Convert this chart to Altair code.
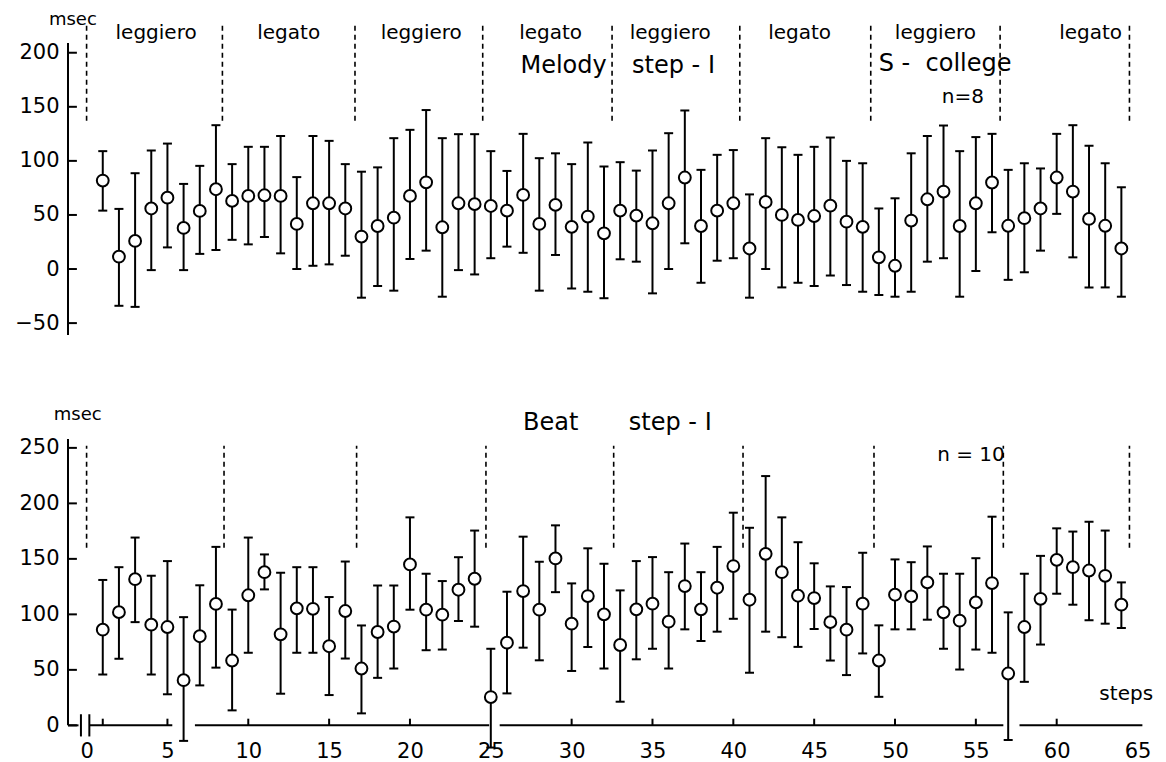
import altair as alt
import pandas as pd

FONT = "DejaVu Sans"

steps = list(range(1, 65))

# ---- Melody step-I (top panel) ----
mel_mean = [81.8, 11.4, 26, 56, 66, 38, 53.7, 73.8, 63, 67.6,
            68.2, 67.6, 41.7, 60.8, 60.8, 56, 30, 39.8, 47.5, 67.6,
            80.2, 38.6, 60.8, 60, 58.3, 54, 68.5, 41.7, 59.3, 39,
            48.5, 33, 54, 49.4, 42.3, 60.8, 84.6, 39.8, 54, 60.8,
            19, 62, 50, 45.4, 49, 58.6, 43.8, 39, 10.8, 3,
            44.8, 64.5, 71.6, 39.8, 60.8, 80, 40, 47, 56, 84.6,
            71.6, 46.3, 40, 19]
mel_hi = [109, 55.6, 88.6, 109.6, 116, 78.7, 95.4, 133, 97, 113,
          113, 123, 85, 123, 118.5, 97, 90, 94, 121, 128.7,
          147, 121, 124.7, 124.7, 109, 90.7, 125, 102.5, 107, 97,
          117, 94.8, 98.8, 91, 109.6, 125.6, 146.6, 91.7, 105.6, 110,
          69, 121, 112.6, 105.6, 113, 121.6, 100, 97.8, 56, 65.4,
          107, 123, 132.7, 109, 122, 125, 91.7, 97.8, 93, 125,
          133, 114, 97.8, 75.6]
mel_lo = [54, -34, -35, -1, 20, -1, 14, 17.6, 27, 22.8,
          29.6, 14.5, 0, 3, 4.3, 12.3, -26.5, -15.7, -20, 9.3,
          17, -25.6, -1, -5, 10, 20.7, 15, -20, 13, -18,
          -21, -27, 9, 6.8, -22.5, 0, 23.8, -12.7, 7.7, 10,
          -26.5, 0, -17, -12.7, -15.7, -6, -14.8, -21, -24, -25.6,
          -21, 6.8, 10, -25.6, -1.8, 34, -10, -3, 17, 51,
          10.8, -17, -17, -25.6]

# ---- Beat step-I (bottom panel) ----
beat_mean = [86.2, 102, 131.7, 90.7, 88.6, 40.7, 80.3, 109.4, 58.4, 117.2,
             138, 82, 105.4, 105, 71.3, 103, 51.2, 84.1, 89, 145,
             104.2, 99.7, 122.2, 132.1, 25.5, 74.5, 121, 104.2, 150.4, 91.6,
             116.5, 100, 72.4, 104.5, 109.6, 93.4, 125.5, 104.5, 124, 143.5,
             113.2, 154.5, 138, 116.8, 114.7, 93, 86.2, 109.6, 58.4, 117.7,
             116.2, 128.8, 101.8, 94.3, 110.8, 128.2, 46.7, 88.6, 114, 149.1,
             142.5, 139.5, 134.7, 108.7]
beat_hi = [131, 142.5, 169.2, 134.8, 148, 97.5, 126.2, 160.8, 104.3, 169.2,
           154, 137.5, 142.5, 142.5, 115.6, 147.6, 90, 126, 126, 187.4,
           136.6, 130, 151.5, 175.5, 69, 120.4, 170, 147.4, 180.2, 127.9,
           159.5, 145.6, 121.6, 148, 151.6, 138, 163.8, 138, 160.8, 191.6,
           178, 224.6, 187.4, 165, 146, 125.2, 124.6, 155.5, 90.1, 149.5,
           147, 161.2, 136.6, 136.6, 150.6, 188, 101.8, 136.6, 152.7, 177.5,
           174.6, 183.5, 175.5, 128.8]
beat_lo = [45.8, 60, 93, 45.8, 28, -14, 36, 52, 13.5, 65.4,
           122.5, 28.5, 65.4, 65.4, 27.3, 60.2, 10.8, 42.8, 51.2, 104.2,
           67.7, 68.3, 94, 88.9, -20, 28.8, 70, 58.6, 120, 49,
           70.6, 51.2, 21.3, 59.5, 69, 51.2, 86.5, 76, 84.4, 96,
           47.4, 84.4, 79.4, 70.7, 86.8, 58.4, 45.3, 64.8, 25.7, 86.5,
           86.5, 95.2, 69, 50.3, 68.3, 65.4, -13.2, 39.2, 72.8, 118.6,
           108.7, 94.6, 91.6, 87.7]

# section boundaries (dashed lines) and section names
top_bounds = [0, 8.4, 16.6, 24.5, 32.5, 40.4, 48.5, 56.5, 64.5]
top_bound_y = [137, 225]
bot_bounds = [0, 8.5, 16.7, 24.7, 32.6, 40.6, 48.7, 56.7, 64.5]
bot_bound_y = [160, 252]
sec_names = ["leggiero", "legato", "leggiero", "legato",
             "leggiero", "legato", "leggiero", "legato"]
sec_x = [4.3, 12.5, 20.7, 28.7, 36.1, 44.1, 52.5, 62.1]
sec_y = 218

# annotations
top_notes = ["Melody", "step - I", "S -\u00a0\u00a0college", "n=8", "msec"]
top_notes_x = [29.5, 36.3, 53.1, 54.2, -0.85]
top_notes_y = [188, 188, 190, 159, 230]
top_notes_size = [24, 24, 24, 20, 18]
bot_notes = ["Beat", "step - I", "n = 10", "steps", "msec"]
bot_notes_x = [28.7, 36.1, 54.7, 64.3, -0.55]
bot_notes_y = [272, 272, 244, 28, 279.5]
bot_notes_size = [24, 24, 20, 20, 18]

# axes
top_yticks = [-50, 0, 50, 100, 150, 200]
bot_yticks = [0, 50, 100, 150, 200, 250]
xticks_labels = list(range(0, 70, 5))
bot_xticks = [1, 5, 10, 15, 20, 30, 35, 40, 45, 50, 55, 60]
xaxis_seg_start = [-1.15, 0.17, 6.7, 25.55, 57.7]
xaxis_seg_end = [-0.5, 5.3, 24.9, 56.7, 65.3]
break_marks = [-0.35, 0.17]

XDOM = [-1.15, 65.4]
W = 1076
TOP_DOM = [-61, 209]
TOP_H = 292
BOT_DOM = [-15, 258]
BOT_H = 303
TICK_LEN = 0.55
LABEL_SIZE = 21


def xenc(field, show_axis):
    if show_axis:
        ax = alt.Axis(values=xticks_labels, domain=False, ticks=False, grid=False,
                      labelFontSize=LABEL_SIZE, labelFont=FONT, labelColor="black",
                      labelPadding=-2, title=None, labelFlush=False, labelOverlap=False)
    else:
        ax = None
    return alt.X(field, type="quantitative",
                 scale=alt.Scale(domain=XDOM, nice=False, zero=False), axis=ax)


def yenc(field, dom, ticks):
    ax = alt.Axis(values=ticks, domain=False, ticks=False, grid=False,
                  labelFontSize=LABEL_SIZE, labelFont=FONT, labelColor="black",
                  labelPadding=9, title=None, labelFlush=False, labelOverlap=False)
    return alt.Y(field, type="quantitative",
                 scale=alt.Scale(domain=dom, nice=False, zero=False), axis=ax)


def panel(mean, hi, lo, dom, yticks, bounds, bound_y, notes, nx, ny, nsize,
          show_x, h, with_sections):
    df = pd.DataFrame({"step": steps, "mean": mean, "hi": hi, "lo": lo})
    layers = []
    X = lambda f: xenc(f, show_x)
    Y = lambda f: yenc(f, dom, yticks)

    # y axis line and inward ticks
    yline = pd.DataFrame({"x": [XDOM[0]], "y0": [dom[0] if not show_x else 0],
                          "y1": [dom[1]]})
    layers.append(alt.Chart(yline).mark_rule(color="black", strokeWidth=2).encode(
        x=X("x"), y=Y("y0"), y2="y1"))
    ytk = pd.DataFrame({"x0": [XDOM[0]] * len(yticks),
                        "x1": [XDOM[0] + TICK_LEN] * len(yticks), "y": yticks})
    layers.append(alt.Chart(ytk).mark_rule(color="black", strokeWidth=2).encode(
        x=X("x0"), x2="x1", y=Y("y")))

    if show_x:
        seg = pd.DataFrame({"a": xaxis_seg_start, "b": xaxis_seg_end,
                            "y": [0] * len(xaxis_seg_start)})
        layers.append(alt.Chart(seg).mark_rule(color="black", strokeWidth=2).encode(
            x=X("a"), x2="b", y=Y("y")))
        xt = pd.DataFrame({"x": bot_xticks, "y0": [0] * len(bot_xticks),
                           "y1": [6] * len(bot_xticks)})
        layers.append(alt.Chart(xt).mark_rule(color="black", strokeWidth=2).encode(
            x=X("x"), y=Y("y0"), y2="y1"))
        bk = pd.DataFrame({"x": break_marks, "y0": [-10] * 2, "y1": [10] * 2})
        layers.append(alt.Chart(bk).mark_rule(color="black", strokeWidth=2).encode(
            x=X("x"), y=Y("y0"), y2="y1"))

    # dashed section boundaries
    bd = pd.DataFrame({"x": bounds, "y0": [bound_y[0]] * len(bounds),
                       "y1": [bound_y[1]] * len(bounds)})
    layers.append(alt.Chart(bd).mark_rule(color="black", strokeWidth=1.6,
                                          strokeDash=[5, 4]).encode(
        x=X("x"), y=Y("y0"), y2="y1"))

    # error bars
    layers.append(alt.Chart(df).mark_rule(color="black", strokeWidth=2).encode(
        x=X("step"), y=Y("lo"), y2="hi"))
    for f in ["hi", "lo"]:
        layers.append(alt.Chart(df).mark_tick(orient="horizontal", size=9,
                                              thickness=2, color="black",
                                              opacity=1).encode(
            x=X("step"), y=Y(f)))
    # means
    layers.append(alt.Chart(df).mark_circle(size=140, color="white", opacity=1,
                                            stroke="black", strokeWidth=2).encode(
        x=X("step"), y=Y("mean")))

    # section names
    if with_sections:
        sd = pd.DataFrame({"x": sec_x, "y": [sec_y] * len(sec_x), "t": sec_names})
        layers.append(alt.Chart(sd).mark_text(font=FONT, fontSize=20, color="black",
                                              align="center", baseline="middle").encode(
            x=X("x"), y=Y("y"), text="t:N"))
    # annotations
    nd = pd.DataFrame({"x": nx, "y": ny, "t": notes, "s": nsize})
    for s in sorted(set(nsize)):
        sub = nd[nd["s"] == s]
        layers.append(alt.Chart(sub).mark_text(font=FONT, fontSize=s, color="black",
                                               align="center", baseline="middle").encode(
            x=X("x"), y=Y("y"), text="t:N"))
    return alt.layer(*layers).properties(width=W, height=h)


top = panel(mel_mean, mel_hi, mel_lo, TOP_DOM, top_yticks, top_bounds, top_bound_y,
            top_notes, top_notes_x, top_notes_y, top_notes_size, False, TOP_H, True)
bottom = panel(beat_mean, beat_hi, beat_lo, BOT_DOM, bot_yticks, bot_bounds, bot_bound_y,
               bot_notes, bot_notes_x, bot_notes_y, bot_notes_size, True, BOT_H, False)

chart = alt.vconcat(top, bottom, spacing=70).properties(
    padding={"left": 6, "top": 3, "right": 0, "bottom": 0},
    background="white",
).configure_view(strokeWidth=0, stroke=None)

chart.save("out.html", embed_options={"renderer": "svg", "actions": False})
